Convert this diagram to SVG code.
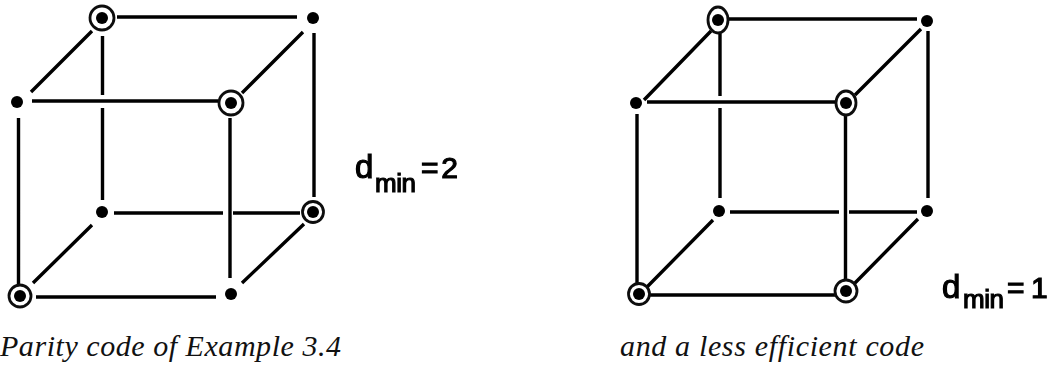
<svg xmlns="http://www.w3.org/2000/svg" width="1053" height="365" viewBox="0 0 1053 365">
<defs><filter id="soft" x="-2%" y="-2%" width="104%" height="104%"><feGaussianBlur stdDeviation="0.55"/></filter></defs>
<style>
.e{stroke:#000;stroke-width:3.4;fill:none}
.d{fill:#000}
.r{fill:#fff;stroke:#111;stroke-width:2.8}
.c{font:italic 30px "Liberation Serif",serif;fill:#111}
.l{font-family:"Liberation Sans",sans-serif;fill:#000;stroke:#000;stroke-width:1.2}
</style>
<rect width="1053" height="365" fill="#fff"/>
<g filter="url(#soft)">
<g id="connectors">
<path class="e" d="M117 17H297M92 31L31 92M303 32L242 93M102.500 36V95M102.500 108V200M32 101H218M18.500 118V285M230 118V278M314 33V197M114 213H223M233 213H300M92 225L33 283M304 224L242 283M36 297H216"/>
<path class="e" d="M728 19H917M711 31L644 100M921 29L855 95M720 33V96M720 108V198M928 31V198M647 102H838M637 114V290M845.500 115V280M650 295H838M730 212H839M849 212H917M713 220L646 288M918 219L853 285"/>
</g>
<g id="n1"><circle class="r" cx="102" cy="18" r="12"/><circle class="d" cx="102" cy="18" r="6"/></g>
<g id="n2"><circle class="d" cx="313" cy="18" r="6"/></g>
<g id="n3"><circle class="d" cx="17" cy="102" r="6"/></g>
<g id="n4"><circle class="r" cx="231" cy="103" r="12"/><circle class="d" cx="231" cy="103" r="6"/></g>
<g id="n5"><circle class="d" cx="102" cy="212" r="6"/></g>
<g id="n6"><circle class="r" cx="313" cy="212" r="10.500"/><circle class="d" cx="313" cy="212" r="6"/></g>
<g id="n7"><circle class="r" cx="20" cy="296" r="11"/><circle class="d" cx="20" cy="296" r="6"/></g>
<g id="n8"><circle class="d" cx="231" cy="294" r="6"/></g>
<g id="n9"><ellipse class="r" cx="718" cy="20" rx="10" ry="13"/><circle class="d" cx="718" cy="20" r="6"/></g>
<g id="n10"><circle class="d" cx="927" cy="21" r="6"/></g>
<g id="n11"><circle class="d" cx="636" cy="103" r="6"/></g>
<g id="n12"><ellipse class="r" cx="846" cy="103" rx="10" ry="12"/><circle class="d" cx="846" cy="103" r="6"/></g>
<g id="n13"><circle class="d" cx="719" cy="211" r="6"/></g>
<g id="n14"><circle class="d" cx="927" cy="211" r="6"/></g>
<g id="n15"><circle class="r" cx="639" cy="294" r="10.500"/><circle class="d" cx="639" cy="294" r="6"/></g>
<g id="n16"><circle class="r" cx="846" cy="291" r="11"/><circle class="d" cx="846" cy="291" r="6"/></g>
<text class="l" x="355" y="178" font-size="33">d</text>
<text class="l" x="375" y="192" font-size="26" textLength="41">min</text>
<text class="l" x="421" y="178" font-size="30" textLength="37">=2</text>
<text class="l" x="942" y="298" font-size="33">d</text>
<text class="l" x="963" y="308" font-size="26" textLength="41">min</text>
<text class="l" x="1007" y="298" font-size="30">=</text>
<text class="l" x="1031" y="298" font-size="30">1</text>
</g>
<text class="c" x="0" y="356" textLength="341">Parity code of Example 3.4</text>
<text class="c" x="620" y="356" textLength="304">and a less efficient code</text>
</svg>
